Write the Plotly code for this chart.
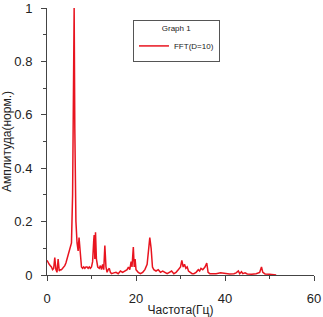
import plotly.graph_objects as go

freq = [0.0, 0.25, 0.5, 0.75, 1.0, 1.25, 1.5, 1.75, 2.0, 2.25, 2.5, 2.75, 3.0, 3.25, 3.5, 3.75,
        4.0, 4.25, 4.5, 4.75, 5.0, 5.25, 5.5, 5.75, 6.0, 6.1, 6.25, 6.5, 6.75, 7.0, 7.2, 7.5,
        7.75, 8.0, 8.25, 8.5, 8.75, 9.0, 9.25, 9.5, 9.75, 10.0, 10.25, 10.5, 10.6, 10.75, 10.9,
        11.1, 11.4, 11.75, 12.0, 12.25, 12.5, 12.75, 13.0, 13.25, 13.5, 13.75, 14.0, 14.25, 14.5,
        15.0, 15.5, 16.0, 16.5, 17.0, 17.5, 18.0, 18.3, 18.6, 18.9, 19.1, 19.4, 19.6, 19.8, 20.0,
        20.5, 21.0, 21.5, 22.0, 22.5, 22.8, 23.1, 23.4, 23.7, 24.0, 24.5, 25.0, 25.5, 26.0, 26.5,
        27.0, 27.5, 28.0, 28.5, 29.0, 29.5, 30.0, 30.3, 30.6, 30.9, 31.2, 31.5, 31.8, 32.2, 32.6,
        33.0, 33.5, 34.0, 34.3, 34.6, 35.0, 35.5, 35.9, 36.2, 36.6, 37.0, 38.0, 39.0, 40.0, 41.0,
        42.0, 42.5, 43.0, 43.3, 43.7, 44.0, 44.5, 45.0, 46.0, 47.0, 47.8, 48.2, 48.5, 49.0, 50.0,
        51.0, 51.5]
amplitude = [0.055, 0.045, 0.04, 0.035, 0.03, 0.02, 0.025, 0.065, 0.02, 0.01, 0.06, 0.015, 0.02, 0.02, 0.025, 0.03,
             0.035, 0.045, 0.06, 0.07, 0.09, 0.1, 0.12, 0.3, 0.85, 1.0, 0.55, 0.2, 0.12, 0.09, 0.14, 0.06,
             0.03, 0.025, 0.03, 0.025, 0.03, 0.03, 0.025, 0.03, 0.025, 0.03, 0.05, 0.13, 0.15, 0.06, 0.16,
             0.06, 0.03, 0.025, 0.035, 0.02, 0.04, 0.02, 0.11, 0.03, 0.01, 0.02, 0.025, 0.01, 0.005,
             0.008, 0.01, 0.005, 0.015, 0.01, 0.015, 0.02, 0.03, 0.02, 0.05, 0.03, 0.105, 0.03, 0.06, 0.02,
             0.01, 0.005, 0.01, 0.02, 0.04, 0.1, 0.14, 0.1, 0.03, 0.02, 0.015, 0.02, 0.01, 0.015, 0.01,
             0.005, 0.01, 0.015, 0.005, 0.01, 0.02, 0.03, 0.055, 0.03, 0.04, 0.025, 0.03, 0.015, 0.01, 0.005,
             0.005, 0.01, 0.02, 0.015, 0.025, 0.02, 0.03, 0.045, 0.01, 0.005, 0.005, 0.005, 0.008, 0.005, 0.004,
             0.005, 0.008, 0.015, 0.005, 0.012, 0.005, 0.008, 0.004, 0.003, 0.005, 0.01, 0.03, 0.01, 0.004, 0.003,
             0.002, 0.0]

x_ticks = [0, 20, 40, 60]
y_ticks = [0, 0.2, 0.4, 0.6, 0.8, 1]
y_tick_labels = ["0", "0.2", "0.4", "0.6", "0.8", "1"]

fig = go.Figure()
fig.add_trace(go.Scatter(x=freq, y=amplitude, mode="lines", name="FFT(D=10)",
                         line=dict(color="#e8141f", width=1.5)))

axis_color = "#444444"
fig.update_layout(
    width=323, height=317,
    margin=dict(l=47, r=9, t=8, b=42, autoexpand=False),
    paper_bgcolor="white", plot_bgcolor="white",
    font=dict(family="Liberation Sans, Arial, sans-serif", color="#222222"),
    showlegend=True,
    legend=dict(
        x=0.322, y=0.955, xanchor="left", yanchor="top",
        bordercolor="#555555", borderwidth=1, bgcolor="white",
        font=dict(size=8, color="#222222"),
        title=dict(text="Graph 1", side="top center", font=dict(size=8)),
        itemwidth=30, tracegroupgap=0,
    ),
    xaxis=dict(
        range=[0, 60], tickvals=x_ticks, showgrid=False, zeroline=False,
        showline=True, linecolor=axis_color, linewidth=1, automargin=False,
        ticks="outside", ticklen=5, tickcolor=axis_color, ticklabelstandoff=6,
        minor=dict(dtick=10, ticks="outside", ticklen=3, tickcolor=axis_color, tick0=0),
        tickfont=dict(size=13),
        title=dict(text="Частота(Гц)", font=dict(size=12), standoff=2),
    ),
    yaxis=dict(
        range=[0, 1], tickvals=y_ticks, ticktext=y_tick_labels, showgrid=False, zeroline=False,
        showline=True, linecolor=axis_color, linewidth=1, automargin=False,
        ticks="outside", ticklen=5, tickcolor=axis_color, ticklabelstandoff=6,
        minor=dict(dtick=0.1, ticks="outside", ticklen=3, tickcolor=axis_color, tick0=0),
        tickfont=dict(size=13),
        title=dict(text="Амплитуда(норм.)", font=dict(size=12), standoff=2),
    ),
)

fig.write_html("out.html", config={"displayModeBar": False},
               post_script="document.body.style.margin='0';")
